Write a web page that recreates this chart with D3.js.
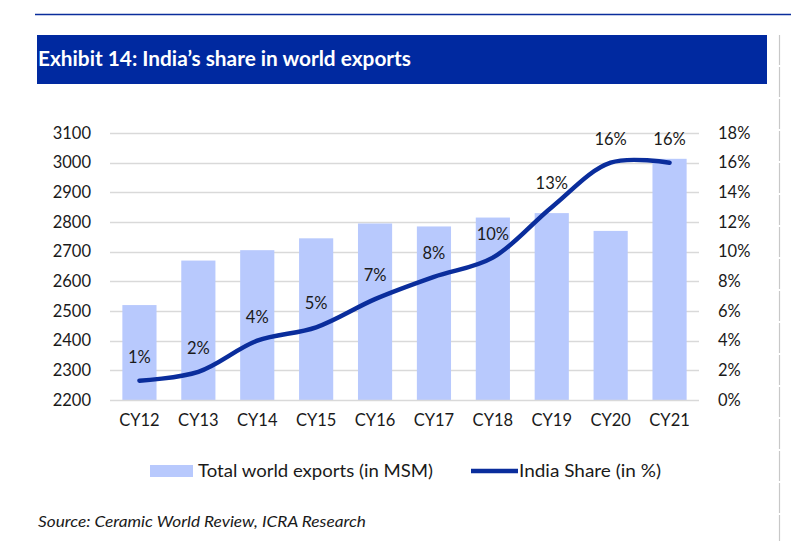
<!DOCTYPE html>
<html>
<head>
<meta charset="utf-8">
<script src="https://cdn.jsdelivr.net/npm/d3@7"></script>
<style>
  html, body { margin: 0; padding: 0; background: #ffffff; }
  svg { display: block; }
  text { font-family: Lato, "Open Sans", sans-serif; fill: #1a1a1a; }
</style>
</head>
<body>
<svg id="chart" width="791" height="541"></svg>
<script>
// ---- data ----
const categories = ["CY12","CY13","CY14","CY15","CY16","CY17","CY18","CY19","CY20","CY21"];
const exportsMSM = [2520, 2670, 2705, 2745, 2795, 2785, 2815, 2830, 2770, 3013];
const indiaShare = [1.3, 1.9, 4.0, 4.9, 6.8, 8.3, 9.6, 13.0, 16.0, 16.0];
const leftTicks = [2200, 2300, 2400, 2500, 2600, 2700, 2800, 2900, 3000, 3100];
const rightTicks = [0, 2, 4, 6, 8, 10, 12, 14, 16, 18];
const titleText = "Exhibit 14: India\u2019s share in world exports";
const sourceText = "Source: Ceramic World Review, ICRA Research";
const legendLabels = ["Total world exports (in MSM)", "India Share (in %)"];

// ---- layout ----
const svg = d3.select("#chart");
const plot = { left: 110, right: 699, top: 133, bottom: 400 };
const barColor = "#b8c9fd";
const lineColor = "#0a2d9c";
const gridColor = "#d9d9d9";

// top rule
svg.append("line").attr("x1", 35).attr("x2", 791).attr("y1", 14.5).attr("y2", 14.5)
  .attr("stroke", "#0a2d9c").attr("stroke-width", 1.5);
// right grey rule
svg.append("line").attr("x1", 779.5).attr("x2", 779.5).attr("y1", 35).attr("y2", 541)
  .attr("stroke", "#c8c8c8").attr("stroke-width", 1.2).attr("stroke-dasharray", "30,2");

// title band
svg.append("rect").attr("x", 37).attr("y", 35).attr("width", 730).attr("height", 49)
  .attr("fill", "#0029a0");
svg.append("text").attr("x", 38).attr("y", 66).text(titleText)
  .attr("textLength", 373).attr("lengthAdjust", "spacingAndGlyphs")
  .style("font-weight", "700").style("font-size", "20px").style("fill", "#ffffff");

// scales
const x = d3.scaleBand().domain(categories).range([plot.left, plot.right])
  .paddingInner(0.42).paddingOuter(0.21);
const yL = d3.scaleLinear().domain([2200, 3100]).range([plot.bottom, plot.top]);
const yR = d3.scaleLinear().domain([0, 18]).range([plot.bottom, plot.top]);

// gridlines
svg.append("g").selectAll("line").data(leftTicks.slice(1)).join("line")
  .attr("x1", plot.left).attr("x2", plot.right)
  .attr("y1", d => Math.round(yL(d)) + 0.5).attr("y2", d => Math.round(yL(d)) + 0.5)
  .attr("stroke", gridColor).attr("stroke-width", 1.3);

// bars
svg.append("g").selectAll("rect").data(categories).join("rect")
  .attr("x", d => x(d)).attr("width", x.bandwidth())
  .attr("y", (d, i) => yL(exportsMSM[i]))
  .attr("height", (d, i) => yL(2200) - yL(exportsMSM[i]))
  .attr("fill", barColor);

// baseline
svg.append("line").attr("x1", plot.left).attr("x2", plot.right)
  .attr("y1", plot.bottom + 0.5).attr("y2", plot.bottom + 0.5)
  .attr("stroke", gridColor).attr("stroke-width", 1.6);

// left axis
const axL = d3.axisLeft(yL).tickValues(leftTicks).tickSize(0).tickPadding(0)
  .tickFormat(d3.format("d"));
const gL = svg.append("g").attr("transform", "translate(91,0)").call(axL);
gL.select(".domain").remove();
gL.selectAll("text").style("font-size", "16.5px").style("fill", "#1a1a1a")
  .style("font-family", "Lato, sans-serif");

// right axis
const axR = d3.axisRight(yR).tickValues(rightTicks).tickSize(0).tickPadding(0)
  .tickFormat(d => d + "%");
const gR = svg.append("g").attr("transform", "translate(718,0)").call(axR);
gR.select(".domain").remove();
gR.selectAll("text").style("font-size", "16.5px").style("fill", "#1a1a1a")
  .style("font-family", "Lato, sans-serif");

// bottom axis
const axB = d3.axisBottom(x).tickSize(0).tickPadding(0);
const gB = svg.append("g").attr("transform", "translate(0,414)").call(axB);
gB.select(".domain").remove();
gB.selectAll("text").style("font-size", "16.5px").style("fill", "#1a1a1a")
  .style("font-family", "Lato, sans-serif");

// line
const pts = categories.map((c, i) => [x(c) + x.bandwidth() / 2, yR(indiaShare[i])]);
svg.append("path").datum(pts)
  .attr("d", d3.line().curve(d3.curveCatmullRom.alpha(0.5)))
  .attr("fill", "none").attr("stroke", lineColor).attr("stroke-width", 4.5)
  .attr("stroke-linecap", "round");

// data labels
svg.append("g").selectAll("text").data(categories).join("text")
  .attr("x", d => x(d) + x.bandwidth() / 2)
  .attr("y", (d, i) => yR(indiaShare[i]) - 24)
  .attr("text-anchor", "middle").attr("dominant-baseline", "central")
  .style("font-size", "16.5px")
  .text((d, i) => Math.round(indiaShare[i]) + "%");

// legend
svg.append("rect").attr("x", 150).attr("y", 465).attr("width", 43).attr("height", 12)
  .attr("fill", barColor);
svg.append("text").attr("x", 198).attr("y", 477).style("font-size", "17px")
  .attr("textLength", 235).attr("lengthAdjust", "spacingAndGlyphs").text(legendLabels[0]);
svg.append("line").attr("x1", 471).attr("x2", 518).attr("y1", 471).attr("y2", 471)
  .attr("stroke", lineColor).attr("stroke-width", 4.5);
svg.append("text").attr("x", 519).attr("y", 477).style("font-size", "17px")
  .attr("textLength", 142).attr("lengthAdjust", "spacingAndGlyphs").text(legendLabels[1]);

// source
svg.append("text").attr("x", 38).attr("y", 527).text(sourceText)
  .attr("textLength", 328).attr("lengthAdjust", "spacingAndGlyphs")
  .style("font-style", "italic").style("font-size", "15px");
</script>
</body>
</html>
